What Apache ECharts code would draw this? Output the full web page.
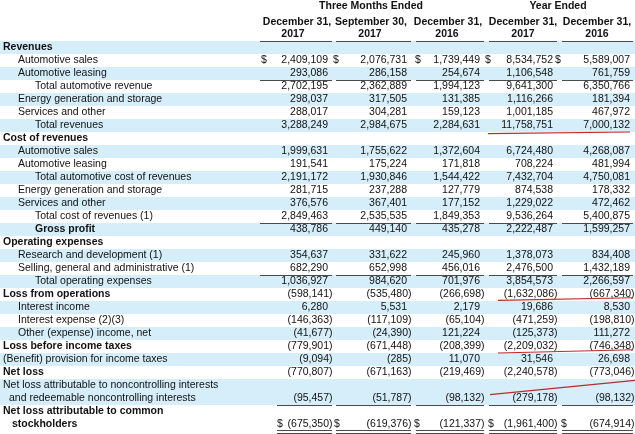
<!DOCTYPE html>
<html><head><meta charset="utf-8">
<script src="https://cdn.jsdelivr.net/npm/echarts@6/dist/echarts.min.js"></script>
<style>html,body{margin:0;padding:0;background:#fff}#c{width:635px;height:434px}</style>
</head><body><div id="c"></div>
<script>
// ---------- data ----------
const groupHeaders = ['Three Months Ended', 'Year Ended'];
const columnDates = ['December 31,', 'September 30,', 'December 31,', 'December 31,', 'December 31,'];
const columnYears = ['2017', '2017', '2016', '2017', '2016'];
const rowLabels = [
  'Revenues', 'Automotive sales', 'Automotive leasing', 'Total automotive revenue',
  'Energy generation and storage', 'Services and other', 'Total revenues',
  'Cost of revenues', 'Automotive sales', 'Automotive leasing', 'Total automotive cost of revenues',
  'Energy generation and storage', 'Services and other', 'Total cost of revenues (1)', 'Gross profit',
  'Operating expenses', 'Research and development (1)', 'Selling, general and administrative (1)',
  'Total operating expenses', 'Loss from operations', 'Interest income', 'Interest expense (2)(3)',
  'Other (expense) income, net', 'Loss before income taxes', '(Benefit) provision for income taxes',
  'Net loss', 'Net loss attributable to noncontrolling interests',
  'and redeemable noncontrolling interests', 'Net loss attributable to common', 'stockholders'
];
const q4_2017 = [null, 2409109, 293086, 2702195, 298037, 288017, 3288249, null, 1999631, 191541, 2191172, 281715, 376576, 2849463, 438786, null, 354637, 682290, 1036927, -598141, 6280, -146363, -41677, -779901, -9094, -770807, null, -95457, null, -675350];
const q3_2017 = [null, 2076731, 286158, 2362889, 317505, 304281, 2984675, null, 1755622, 175224, 1930846, 237288, 367401, 2535535, 449140, null, 331622, 652998, 984620, -535480, 5531, -117109, -24390, -671448, -285, -671163, null, -51787, null, -619376];
const q4_2016 = [null, 1739449, 254674, 1994123, 131385, 159123, 2284631, null, 1372604, 171818, 1544422, 127779, 177152, 1849353, 435278, null, 245960, 456016, 701976, -266698, 2179, -65104, 121224, -208399, 11070, -219469, null, -98132, null, -121337];
const fy_2017 = [null, 8534752, 1106548, 9641300, 1116266, 1001185, 11758751, null, 6724480, 708224, 7432704, 874538, 1229022, 9536264, 2222487, null, 1378073, 2476500, 3854573, -1632086, 19686, -471259, -125373, -2209032, 31546, -2240578, null, -279178, null, -1961400];
const fy_2016 = [null, 5589007, 761759, 6350766, 181394, 467972, 7000132, null, 4268087, 481994, 4750081, 178332, 472462, 5400875, 1599257, null, 834408, 1432189, 2266597, -667340, 8530, -198810, 111272, -746348, 26698, -773046, null, -98132, null, -674914];
const dollarRows = [1, 29];

// ---------- layout / style ----------
const W = 635, ROW_H = 13, ROW0_Y = 47.5;
const columns = [q4_2017, q3_2017, q4_2016, fy_2017, fy_2016];
const colRight = [328, 407, 480, 553, 630];
const dateCenter = [297, 371, 448, 523, 597];
const yearCenter = [293, 370, 447, 523, 597];
const groupCenter = [371, 558];
const ruleSpans = [[260, 332], [336, 411], [416, 484], [489, 557], [562, 633]];
const lowerRuleSpans = [[277, 332], [336, 411], [416, 484], [489, 557], [562, 633]];
const dollarX = {1: [261, 333, 415, 485, 555], 29: [277, 334, 414, 488, 561]};
const labelX = [3, 18, 18, 35, 18, 18, 35, 3, 18, 18, 35, 18, 18, 35, 35, 3, 18, 18, 35, 3, 18, 18, 18, 3, 3, 3, 3, 9, 3, 12];
const boldRows = [0, 7, 14, 15, 19, 23, 25, 28, 29];
const shadedRows = [0, 2, 4, 6, 8, 10, 12, 14, 16, 18, 20, 22, 24, 26, 27];
const ruleAfterRows = [-1, 2, 13, 17];
const redMarks = [[488, 6.62, 630, 6.5], [498, 19.45, 633, 19.25], [498, 23.5, 633, 23.25], [490, 26.7, 635, 25.6]];
const FONT = '"Liberation Sans", Arial, sans-serif';
const FS = '10.5px ';

function fmt(v) {
  const s = Math.abs(v).toLocaleString('en-US');
  return v < 0 ? '(' + s + ')' : s;
}

// build cells (text) from the data arrays
const cells = [];
cells.push({x: groupCenter[0], r: -3.15, t: groupHeaders[0], a: 'center', b: true});
cells.push({x: groupCenter[1], r: -3.15, t: groupHeaders[1], a: 'center', b: true});
columnDates.forEach((d, i) => cells.push({x: dateCenter[i], r: -1.95, t: d, a: 'center', b: true}));
columnYears.forEach((d, i) => cells.push({x: yearCenter[i], r: -1.0, t: d, a: 'center', b: true}));
rowLabels.forEach((lab, r) => {
  cells.push({x: labelX[r], r: r, t: lab, a: 'left', b: boldRows.indexOf(r) >= 0});
  columns.forEach((col, c) => {
    const v = col[r];
    if (v === null || v === undefined) return;
    cells.push({x: colRight[c] + (v < 0 ? 4.5 : 0), r: r, t: fmt(v), a: 'right', b: false});
    if (dollarRows.indexOf(r) >= 0) cells.push({x: dollarX[r][c], r: r, t: '$', a: 'left', b: false});
  });
});

const rules = [];
ruleAfterRows.forEach(r => ruleSpans.forEach(s => rules.push([s[0], s[1], r + 0.5])));
lowerRuleSpans.forEach(s => {
  rules.push([s[0], s[1], 27.5]);
  rules.push([s[0], s[1], 29.42]);
  rules.push([s[0], s[1], 29.62]);
});

const chart = echarts.init(document.getElementById('c'), null, {renderer: 'canvas'});
chart.setOption({
  animation: false,
  backgroundColor: '#ffffff',
  grid: {left: 0, right: 0, top: 0, bottom: 0},
  xAxis: {type: 'value', min: 0, max: W, show: false},
  yAxis: {type: 'value', inverse: true, min: -ROW0_Y / ROW_H, max: (434 - ROW0_Y) / ROW_H, show: false},
  series: [
    {
      type: 'custom', silent: true, z: 1,
      data: shadedRows.map(r => [0, r]),
      renderItem: (p, api) => {
        const r = api.value(1);
        const a = api.coord([0, r - 0.5]), b = api.coord([W, r + 0.5]);
        return {type: 'rect', shape: {x: a[0], y: a[1], width: b[0] - a[0], height: b[1] - a[1]}, style: {fill: '#d5eefa'}};
      }
    },
    {
      type: 'custom', silent: true, z: 2,
      data: rules,
      renderItem: (p, api) => {
        const a = api.coord([api.value(0), api.value(2)]), b = api.coord([api.value(1), api.value(2)]);
        const y = Math.round(a[1]) + 0.5;
        return {type: 'line', shape: {x1: a[0], y1: y, x2: b[0], y2: y}, style: {stroke: '#4a4a4a', lineWidth: 1}};
      }
    },
    {
      type: 'custom', silent: true, z: 3,
      data: cells.map(c => [c.x, c.r]),
      renderItem: (p, api) => {
        const c = cells[p.dataIndex];
        const pt = api.coord([c.x, c.r]);
        return {type: 'text', x: pt[0], y: pt[1], style: {
          text: c.t, fill: '#111', font: (c.b ? 'bold ' : '') + FS + FONT,
          align: c.a, verticalAlign: 'middle', textAlign: c.a, textVerticalAlign: 'middle'}};
      }
    },
    {
      type: 'custom', silent: true, z: 4,
      data: redMarks,
      renderItem: (p, api) => {
        const a = api.coord([api.value(0), api.value(1)]), b = api.coord([api.value(2), api.value(3)]);
        return {type: 'line', shape: {x1: a[0], y1: a[1], x2: b[0], y2: b[1]}, style: {stroke: '#c0282a', lineWidth: 1.2}};
      }
    }
  ]
});
</script>
</body></html>
